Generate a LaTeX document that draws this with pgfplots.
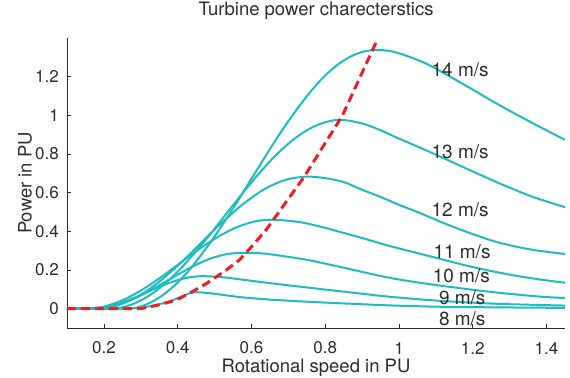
\documentclass[border=0pt]{standalone}
\usepackage{pgfplots}
\pgfplotsset{compat=1.18}
\usepackage{fontspec}
\setmainfont{TeX Gyre Heros}
\definecolor{cy}{RGB}{30,188,190}
\definecolor{rd}{RGB}{236,30,36}
\definecolor{ax}{RGB}{45,45,45}
\begin{document}
\begin{tikzpicture}
\begin{axis}[
  scale only axis, width=498bp, height=290bp,
  at={(0,0)}, anchor=south west,
  xmin=0.1, xmax=1.45, ymin=-0.1, ymax=1.4,
  axis x line*=bottom, axis y line*=left,
  axis line style={draw=ax, line width=0.8bp},
  tick align=inside, major tick length=4bp,
  tick style={draw=ax, line width=0.7bp},
  xtick={0.2,0.4,0.6,0.8,1,1.2,1.4},
  ytick={0,0.2,0.4,0.6,0.8,1,1.2},
  /pgf/number format/assume math mode=true,
  ticklabel style={font=\fontsize{17bp}{19bp}\selectfont, text=ax},
  xticklabel style={anchor=center, yshift=-20bp},
  yticklabel style={anchor=east, inner sep=0pt, xshift=-8bp},
  title={Turbine power charecterstics},
  title style={at={(axis description cs:0.5,1)}, anchor=center, yshift=21bp, font=\fontsize{18.5bp}{20bp}\selectfont, text=ax},
  xlabel={Rotational speed in PU},
  xlabel style={at={(axis description cs:0.5,0)}, anchor=center, yshift=-40bp, font=\fontsize{18.5bp}{20bp}\selectfont, text=ax},
  every axis plot/.append style={line width=2bp, smooth, tension=0.5},
  clip=true,
]
% 8 m/s
\addplot[cy] coordinates {(0.1,0) (0.25,0) (0.3,0.006) (0.34,0.018) (0.378,0.038) (0.41,0.062) (0.43,0.078) (0.445,0.085) (0.47,0.083) (0.5,0.077) (0.568,0.06) (0.65,0.047) (0.75,0.036) (0.84,0.028) (0.973,0.017) (1.108,0.01) (1.25,0.007) (1.45,0.004)};
% 9 m/s
\addplot[cy] coordinates {(0.1,0) (0.16,0) (0.191,0.004) (0.222,0.016) (0.253,0.035) (0.284,0.058) (0.315,0.084) (0.346,0.11) (0.377,0.133) (0.408,0.152) (0.439,0.164) (0.47,0.168) (0.52,0.163) (0.568,0.152) (0.65,0.132) (0.749,0.11) (0.85,0.088) (0.973,0.062) (1.1,0.042) (1.2,0.031) (1.3,0.023) (1.45,0.016)};
% 10 m/s
\addplot[cy] coordinates {(0.1,0) (0.17,0) (0.21,0.007) (0.251,0.028) (0.291,0.06) (0.331,0.1) (0.372,0.145) (0.412,0.189) (0.452,0.229) (0.492,0.261) (0.533,0.282) (0.573,0.289) (0.62,0.287) (0.66,0.279) (0.749,0.253) (0.838,0.217) (0.973,0.16) (1.09,0.125) (1.243,0.088) (1.378,0.063) (1.45,0.055)};
% 11 m/s
\addplot[cy] coordinates {(0.1,0) (0.15,0) (0.2005,0.011) (0.251,0.044) (0.3015,0.095) (0.352,0.159) (0.4025,0.23) (0.453,0.301) (0.5035,0.365) (0.554,0.416) (0.6045,0.449) (0.655,0.46) (0.73,0.448) (0.8,0.418) (0.838,0.398) (0.91,0.36) (0.973,0.325) (1.09,0.268) (1.2,0.215) (1.3,0.176) (1.378,0.152) (1.45,0.134)};
% 12 m/s
\addplot[cy] coordinates {(0.1,0) (0.18,0) (0.237,0.017) (0.294,0.065) (0.351,0.141) (0.408,0.236) (0.4645,0.342) (0.521,0.447) (0.578,0.542) (0.635,0.618) (0.692,0.666) (0.749,0.683) (0.8,0.675) (0.85,0.655) (0.9,0.615) (0.95,0.578) (1.0,0.537) (1.05,0.5) (1.135,0.432) (1.2,0.386) (1.27,0.342) (1.36,0.305) (1.45,0.283)};
% 13 m/s
\addplot[cy] coordinates {(0.1,0) (0.216,0) (0.2475,0.006) (0.279,0.024) (0.3105,0.053) (0.342,0.093) (0.3735,0.143) (0.405,0.201) (0.4365,0.267) (0.468,0.338) (0.4995,0.412) (0.531,0.489) (0.5625,0.565) (0.594,0.639) (0.6255,0.71) (0.657,0.776) (0.6885,0.834) (0.72,0.884) (0.7515,0.924) (0.783,0.953) (0.8145,0.971) (0.846,0.977) (0.9,0.958) (0.946,0.926) (1.0,0.88) (1.09,0.805) (1.18,0.727) (1.27,0.65) (1.36,0.58) (1.45,0.525)};
% 14 m/s
\addplot[cy] coordinates {(0.1,0) (0.26,0) (0.294,0.008) (0.328,0.033) (0.362,0.073) (0.396,0.128) (0.43,0.196) (0.463,0.276) (0.497,0.365) (0.531,0.462) (0.565,0.563) (0.599,0.669) (0.633,0.773) (0.667,0.876) (0.701,0.972) (0.735,1.062) (0.769,1.142) (0.802,1.21) (0.836,1.265) (0.87,1.305) (0.904,1.33) (0.938,1.338) (0.98,1.331) (1.035,1.298) (1.09,1.252) (1.18,1.155) (1.27,1.055) (1.36,0.962) (1.45,0.873)};
% maximum power tracking
\addplot[rd, line width=3bp, sharp plot, dash pattern=on 9bp off 5bp] coordinates {(0.1,0) (0.3,0) (0.35,0.02) (0.397,0.045) (0.44,0.088) (0.478,0.13) (0.532,0.2) (0.568,0.253) (0.6,0.32) (0.64,0.408) (0.743,0.682) (0.847,1.0) (0.942,1.395)};
\begin{scope}[every node/.style={anchor=base west, inner sep=0pt, font=\fontsize{19bp}{21bp}\selectfont, text=ax}]
\node at (axis cs:1.088,1.2) {14 m/s};
\node at (axis cs:1.088,0.779) {13 m/s};
\node at (axis cs:1.088,0.477) {12 m/s};
\node at (axis cs:1.093,0.262) {11 m/s};
\node at (axis cs:1.091,0.136) {10 m/s};
\node at (axis cs:1.108,0.021) {9 m/s};
\node at (axis cs:1.108,-0.088) {8 m/s};
\end{scope}
\end{axis}
\node[rotate=90, anchor=center, inner sep=0pt, font=\fontsize{18.5bp}{20bp}\selectfont, text=ax] at (-42bp,145bp) {Power in PU};
\pgfresetboundingbox
\path[use as bounding box] (-67bp,-50bp) rectangle (503bp,328bp);
\end{tikzpicture}
\end{document}
